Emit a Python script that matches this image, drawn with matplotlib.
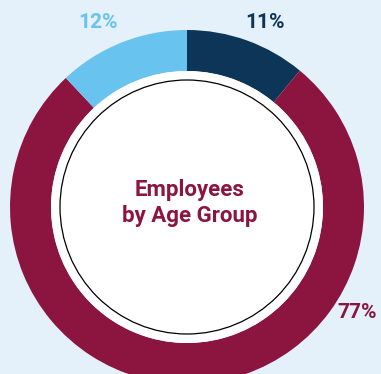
import matplotlib.pyplot as plt
from matplotlib.patches import Circle

# share of employees per age group, clockwise from 12 o'clock
shares = [11, 77, 12]
colors = ['#0d3557', '#8b153e', '#68c3ee']
label_pos = [(265, 352), (357, 62), (98, 352)]

bg = '#e4f0fa'
W, H = 381, 374
cx, cy = 187, H - 207
R, ring = 177, 41

fig = plt.figure(figsize=(W / 100, H / 100), dpi=100, facecolor=bg)
ax = fig.add_axes([0, 0, 1, 1])
ax.set_facecolor(bg)

ax.pie(shares, colors=colors, startangle=90, counterclock=False,
       radius=R, center=(cx, cy),
       wedgeprops=dict(width=ring, linewidth=0))

# white hole with a thin ring inside
ax.add_patch(Circle((cx, cy), R - ring, facecolor='white', edgecolor='none', zorder=3))
ax.add_patch(Circle((cx, cy), 127, facecolor='none', edgecolor='black', lw=0.9, zorder=4))

for s, c, (x, y) in zip(shares, colors, label_pos):
    ax.text(x, y, f'{s}%', color=c, fontsize=15, fontweight='bold',
            family='Roboto', ha='center', va='center')

ax.text(190, H - 203, 'Employees\nby Age Group', color='#8b153e', fontsize=16,
        fontweight='bold', family='Roboto', ha='center', va='center',
        linespacing=1.2, zorder=5)

ax.set_xlim(0, W)
ax.set_ylim(0, H)
ax.set_aspect('equal')
ax.axis('off')

fig.savefig('out.png', dpi=100, facecolor=bg)
